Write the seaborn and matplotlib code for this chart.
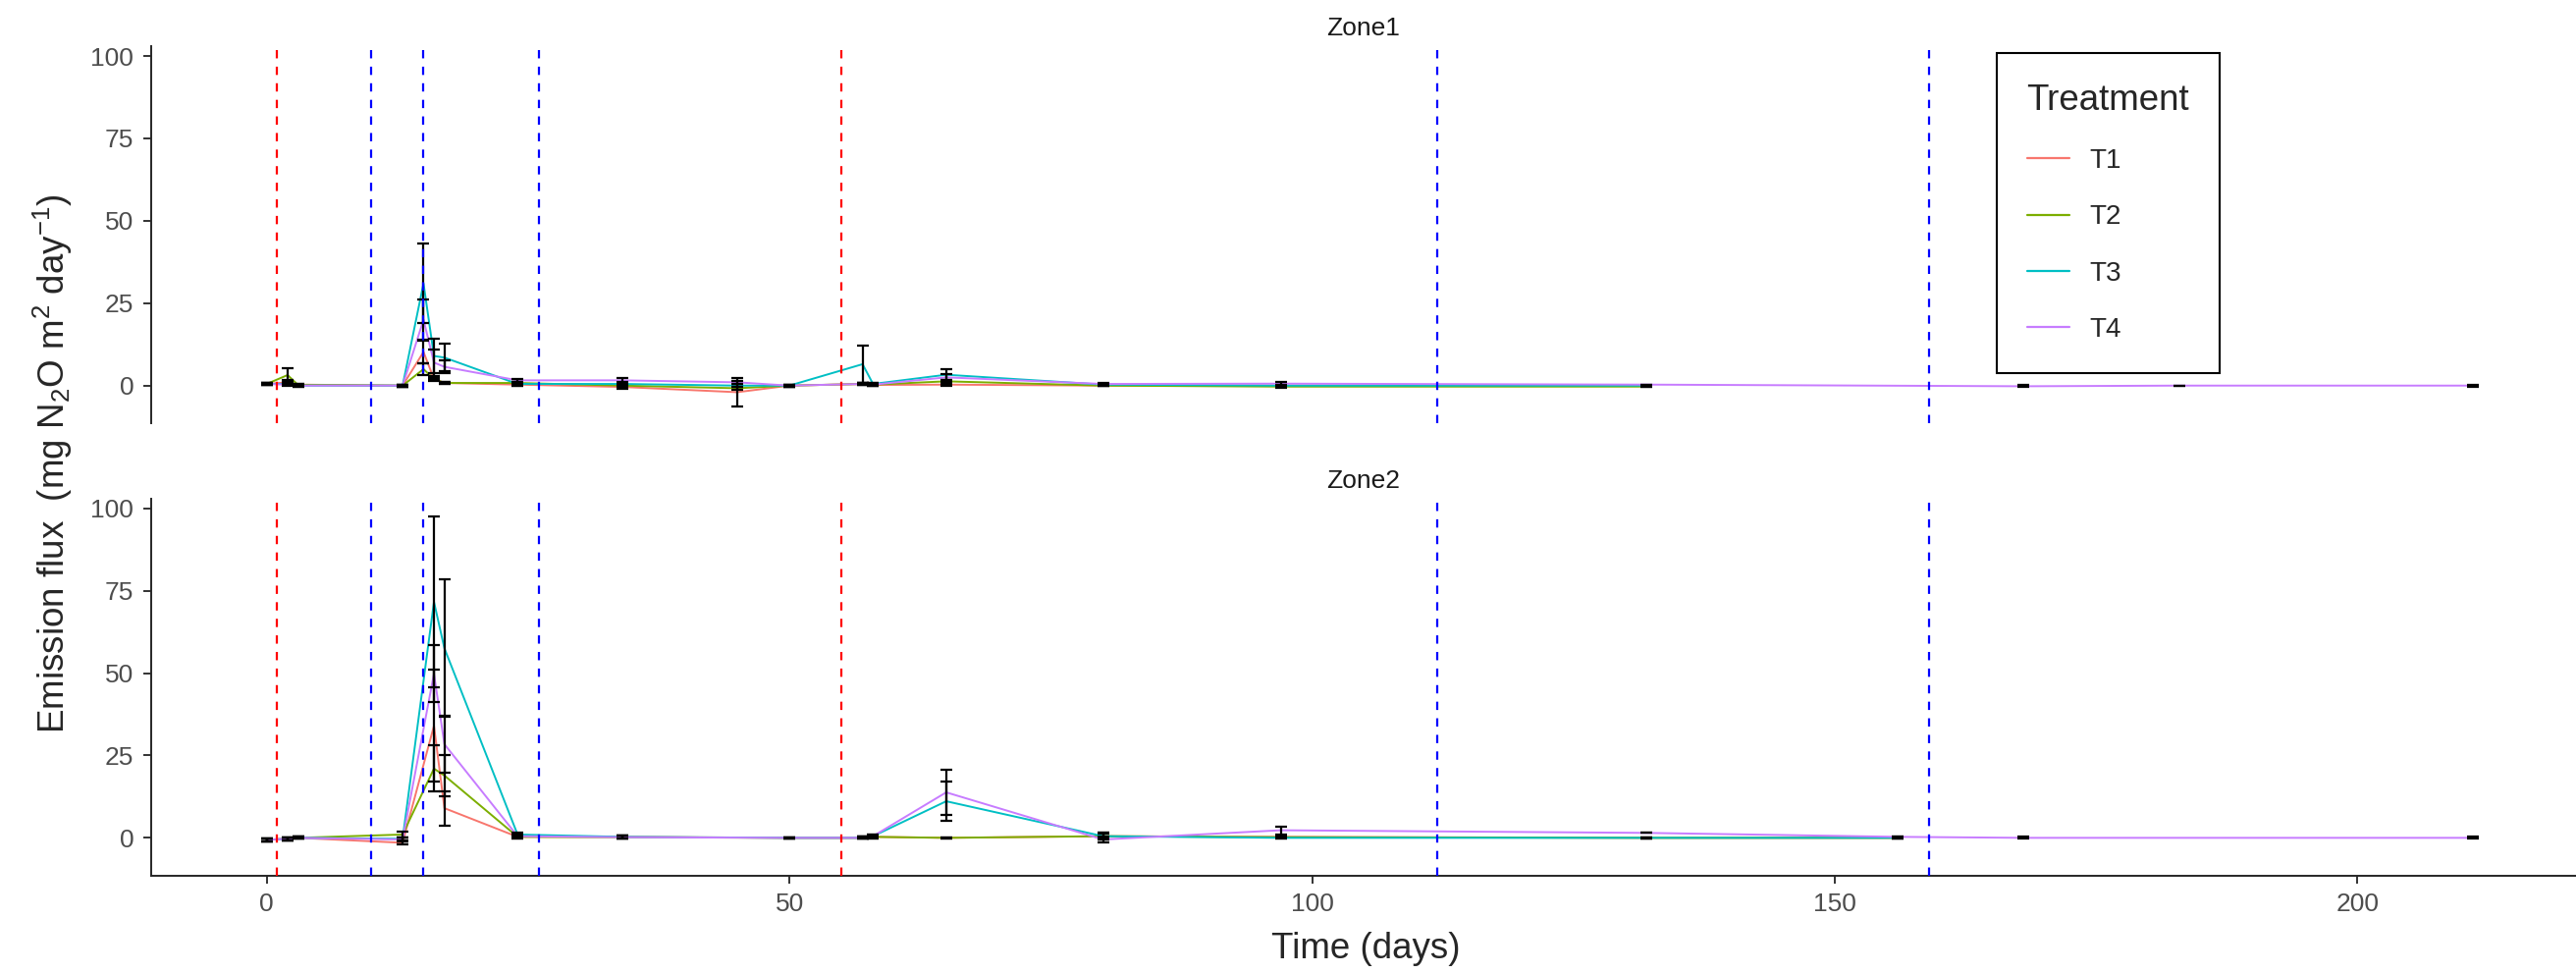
import numpy as np
import pandas as pd
import matplotlib
matplotlib.use("Agg")
import matplotlib.pyplot as plt
import seaborn as sns

nan = np.nan

# sampling days (both zones)
days = [0, 2, 3, 13, 15, 16, 17, 24, 34, 45, 50, 57, 58, 65, 80, 97, 132, 156, 168, 183, 211]
treatments = ["T1", "T2", "T3", "T4"]

# Zone1 means / sd
z1_T1 = [0.5, 1.0, 0.3, 0.0, 10.2, 2.0, 0.8, 0.3, -0.4, -2.0, 0.0, 0.5, 0.2, 0.3, 0.0, 0.0, 0.0, nan, nan, nan, nan]
z1_T1_sd = [0.3, 0.6, 0.3, 0.3, 3.5, 0.2, 0.4, 0.4, 0.5, 4.2, 0.3, 0.3, 0.3, 0.3, 0.2, 0.3, 0.05, nan, nan, nan, nan]
z1_T2 = [0.5, 3.2, 0.2, 0.0, 5.0, 2.0, 0.8, 0.8, 0.0, -0.8, 0.0, 0.5, 0.3, 1.3, 0.0, -0.3, -0.3, nan, nan, nan, nan]
z1_T2_sd = [0.3, 2.0, 0.3, 0.3, 1.7, 0.5, 0.3, 0.4, 0.5, 0.5, 0.3, 0.3, 0.3, 0.5, 0.2, 0.3, 0.05, nan, nan, nan, nan]
z1_T3 = [0.5, 0.5, 0.0, 0.0, 31.0, 9.0, 8.5, 0.5, 0.5, 0.0, 0.0, 6.5, 0.5, 3.3, 0.3, 0.0, 0.0, nan, nan, nan, nan]
z1_T3_sd = [0.3, 0.4, 0.3, 0.3, 12.0, 5.2, 4.2, 0.5, 0.5, 0.5, 0.3, 5.7, 0.4, 1.7, 0.3, 0.3, 0.05, nan, nan, nan, nan]
z1_T4 = [0.5, 0.3, 0.0, 0.0, 20.0, 7.0, 5.7, 1.6, 1.6, 1.0, 0.0, 0.5, 0.3, 2.5, 0.5, 0.6, 0.3, nan, -0.2, 0.0, 0.0]
z1_T4_sd = [0.3, 0.3, 0.3, 0.3, 6.0, 4.0, 1.9, 0.5, 0.8, 0.5, 0.3, 0.3, 0.4, 1.0, 0.3, 0.6, 0.05, nan, 0.3, 0.05, 0.3]

# Zone2 means / sd
z2_T1 = [-0.6, -0.3, 0.0, -1.5, nan, 34.0, 9.0, 0.3, 0.3, nan, 0.0, 0.0, 0.3, 0.0, 0.5, 0.3, 0.0, 0.0, nan, nan, nan]
z2_T1_sd = [0.5, 0.4, 0.3, 0.4, nan, 17.0, 5.2, 0.5, 0.4, nan, 0.1, 0.3, 0.5, 0.2, 1.0, 0.3, 0.05, 0.05, nan, nan, nan]
z2_T2 = [-0.6, -0.3, 0.0, 1.0, nan, 21.0, 18.9, 0.3, 0.2, nan, 0.0, 0.0, 0.3, 0.0, 0.5, 0.2, 0.0, 0.0, nan, nan, nan]
z2_T2_sd = [0.5, 0.4, 0.3, 0.8, nan, 7.0, 6.2, 0.5, 0.4, nan, 0.1, 0.3, 0.5, 0.2, 1.0, 0.3, 0.05, 0.05, nan, nan, nan]
z2_T3 = [-0.6, -0.3, 0.0, -0.3, nan, 71.6, 57.5, 1.0, 0.3, nan, 0.0, 0.0, 0.5, 11.1, 0.5, 0.0, 0.0, 0.0, nan, nan, nan]
z2_T3_sd = [0.5, 0.4, 0.3, 0.5, nan, 26.0, 20.9, 0.6, 0.4, nan, 0.1, 0.3, 0.5, 5.9, 0.8, 0.3, 0.05, 0.05, nan, nan, nan]
z2_T4 = [-0.6, -0.3, 0.0, -0.5, nan, 49.8, 28.4, 0.5, 0.2, nan, 0.0, 0.0, 0.5, 13.8, -0.5, 2.3, 1.5, 0.3, 0.0, nan, 0.0]
z2_T4_sd = [0.5, 0.4, 0.3, 0.5, nan, 8.6, 8.5, 0.5, 0.4, nan, 0.1, 0.3, 0.5, 6.9, 0.8, 1.2, 0.05, 0.05, 0.3, nan, 0.3]

# event days (dashed vertical lines)
event_days = [1, 10, 15, 26, 55, 112, 159]
event_colors = ["red", "blue", "blue", "blue", "red", "blue", "blue"]

pal = {"T1": "#F8766D", "T2": "#7CAE00", "T3": "#00BFC4", "T4": "#C77CFF"}

zone_data = {
    "Zone1": [(z1_T1, z1_T1_sd), (z1_T2, z1_T2_sd), (z1_T3, z1_T3_sd), (z1_T4, z1_T4_sd)],
    "Zone2": [(z2_T1, z2_T1_sd), (z2_T2, z2_T2_sd), (z2_T3, z2_T3_sd), (z2_T4, z2_T4_sd)],
}
rows = []
for zone, series in zone_data.items():
    for t, (m, s) in zip(treatments, series):
        for d, v, e in zip(days, m, s):
            if not np.isnan(v):
                rows.append((zone, t, d, v, e))
df = pd.DataFrame(rows, columns=["Zone", "Treatment", "Day", "Flux", "SD"])

sns.set_style("ticks")
plt.rcParams["font.family"] = ["Liberation Sans", "DejaVu Sans"]
plt.rcParams["mathtext.fontset"] = "custom"
plt.rcParams["mathtext.rm"] = "Liberation Sans"
plt.rcParams["mathtext.it"] = "Liberation Sans:italic"

W, H = 2624, 991
fig = plt.figure(figsize=(W / 100, H / 100), dpi=100)


def px_axes(x0, y0, x1, y1):
    return fig.add_axes([x0 / W, 1 - y1 / H, (x1 - x0) / W, (y1 - y0) / H])


ax1 = px_axes(154, 47, 2624, 431)
ax2 = px_axes(154, 507.6, 2624, 891.6)

for ax, zone in [(ax1, "Zone1"), (ax2, "Zone2")]:
    sub = df[df["Zone"] == zone]
    sns.lineplot(data=sub, x="Day", y="Flux", hue="Treatment", hue_order=treatments,
                 palette=pal, ax=ax, linewidth=1.4, errorbar=None, legend=(zone == "Zone1"))
    ax.errorbar(sub["Day"], sub["Flux"], yerr=sub["SD"], fmt="none", ecolor="black",
                elinewidth=1.6, capsize=4.3, capthick=1.6, zorder=3)
    for d, c in zip(event_days, event_colors):
        ax.axvline(d, color=c, ls=(0, (3.8, 3.8)), lw=1.6, zorder=4)
    ax.set_xlim(-11.05, 220.9)
    ax.set_ylim(-11.4, 103.0)
    ax.set_yticks([0, 25, 50, 75, 100])
    ax.set_xticks([0, 50, 100, 150, 200])
    ax.set_xlabel("")
    ax.set_ylabel("")
    for sp in ["top", "right"]:
        ax.spines[sp].set_visible(False)
    ax.spines["left"].set_linewidth(1.4)
    ax.spines["bottom"].set_linewidth(1.4)
    ax.tick_params(axis="both", length=5.8, width=1.4, color="#333333",
                   labelsize=19, labelcolor="#4D4D4D", pad=7)
    ax.annotate(zone, xy=(0.5, 1), xycoords="axes fraction", xytext=(0, 13),
                textcoords="offset points", ha="center", va="center",
                fontsize=19, color="#1A1A1A")
    ax.set_facecolor("white")

ax1.spines["bottom"].set_visible(False)
ax1.tick_params(axis="x", bottom=False, labelbottom=False)

handles, labels = ax1.get_legend_handles_labels()
ax1.get_legend().remove()
leg = fig.legend(handles, labels, title="Treatment", loc="upper left",
                 bbox_to_anchor=(2034 / W, 1 - 54 / H), borderaxespad=0,
                 frameon=True, fancybox=False, edgecolor="black", framealpha=1,
                 fontsize=20, title_fontsize=26.5, alignment="left",
                 borderpad=1.1, labelspacing=1.13, handlelength=1.55, handletextpad=0.75)
leg.get_frame().set_linewidth(1.5)
for ln in leg.get_lines():
    ln.set_linewidth(1.6)

fig.text(54 / W, 1 - 472 / H, r"Emission flux  (mg N$_2$O m$^2$ day$^{-1}$)",
         rotation=90, ha="center", va="center", fontsize=26.5)
fig.text(1391 / W, 1 - 967 / H, "Time (days)", ha="center", va="center", fontsize=26.5)

fig.savefig("out.png", dpi=100, facecolor="white")
